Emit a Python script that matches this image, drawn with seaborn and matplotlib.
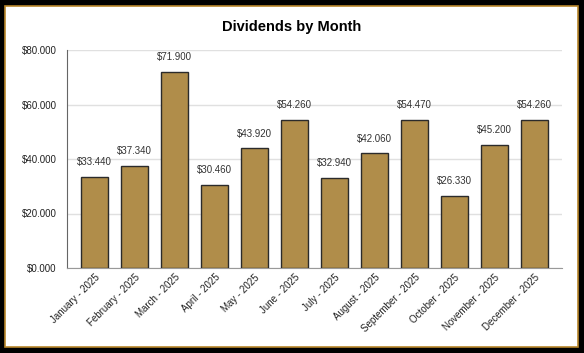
import numpy as np
import pandas as pd
import seaborn as sns
import matplotlib.pyplot as plt
from matplotlib.patches import Rectangle
from matplotlib.ticker import FuncFormatter

# data (in thousands)
months = ["January - 2025", "February - 2025", "March - 2025", "April - 2025",
          "May - 2025", "June - 2025", "July - 2025", "August - 2025",
          "September - 2025", "October - 2025", "November - 2025", "December - 2025"]
dividends = [33.44, 37.34, 71.90, 30.46, 43.92, 54.26, 32.94, 42.06, 54.47, 26.33, 45.20, 54.26]
y_ticks = [0, 20, 40, 60, 80]

df = pd.DataFrame({"month": months, "dividends": dividends})

sns.set_style("white")
plt.rcParams['font.family'] = ['Liberation Sans', 'DejaVu Sans']

fig = plt.figure(figsize=(5.84, 3.53), dpi=100, facecolor="black")
# white card with thin gold border, behind the axes
fig.patches.append(Rectangle((5/584, 6/353), 572.5/584, 341.5/353, transform=fig.transFigure,
                             facecolor="white", edgecolor="#b8862b", linewidth=1.2, zorder=-1))

ax = fig.add_axes([67/584, 1-268/353, 495/584, 218/353])
ax.set_zorder(1)
ax.set_facecolor("white")

sns.barplot(data=df, x="month", y="dividends", color="#b08d4a", edgecolor="#2b2b2b",
            linewidth=1, width=0.68, saturation=1, ax=ax, zorder=3)

for i, v in enumerate(dividends):
    ax.text(i, v + 3.6, f"${v:.3f}", ha="center", va="bottom", fontsize=7, color="#333333")

ax.set_xlim(-0.69, 11.69)
ax.set_ylim(0, 80)
ax.set_yticks(y_ticks)
ax.yaxis.set_major_formatter(FuncFormatter(lambda v, p: f"${v:.3f}"))
ax.grid(axis="y", color="#e0e0e0", linewidth=1, zorder=0)
ax.set_axisbelow(True)
ax.set_xlabel("")
ax.set_ylabel("")

for s in ["top", "right"]:
    ax.spines[s].set_visible(False)
ax.spines["left"].set_color("#666666")
ax.spines["bottom"].set_color("#999999")
ax.tick_params(axis="y", length=9, width=1, color="#555555", direction="inout",
               labelsize=7, pad=3, labelcolor="#222222")
ax.tick_params(axis="x", length=0, labelsize=7, pad=3, labelcolor="#222222")
plt.setp(ax.get_xticklabels(), rotation=45, ha="right", rotation_mode="anchor")

fig.text(292/584, 1-27/353, "Dividends by Month", ha="center", va="center",
         fontsize=10.5, fontweight="bold", color="black")

fig.savefig("out.png", dpi=100, facecolor="black")
